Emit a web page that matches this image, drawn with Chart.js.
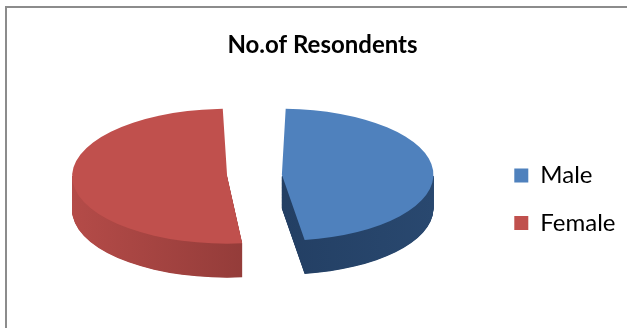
<!DOCTYPE html>
<html>
<head>
<meta charset="utf-8">
<script src="https://cdn.jsdelivr.net/npm/chart.js@4.4.0/dist/chart.umd.min.js"></script>
<style>
  html, body { margin: 0; padding: 0; background: #fff; overflow: hidden; }
  #wrap { position: relative; width: 627px; height: 328px; overflow: hidden; }
  #frame { position: absolute; left: 5px; top: 6px; width: 700px; height: 400px;
           border-left: 2px solid #8c8c8c; border-top: 2px solid #8c8c8c; }
  canvas { position: absolute; left: 0; top: 0; }
</style>
</head>
<body>
<div id="wrap">
  <div id="frame"></div>
  <canvas id="pie" width="660" height="328"></canvas>
</div>
<script>
// data
const labels = ['Male', 'Female'];
const respondents = [48, 52];

// colours (Excel 2007 defaults)
const topColors = ['#4F81BD', '#C0504D'];
const sideColors = [['#1d3658', '#29486f'], ['#b44b48', '#7a302e']]; // left -> right

// where the tilted pie lands on screen
const centerX = 254.5;
const centerY = 175.5;
const rimX = 155;     // horizontal radius of the top face
const tilt = 0.435;   // vertical squash
const depth = 34;     // thickness of the pie in px

// same outline Chart.js uses for an offset arc
function slicePath(ctx, a, dy) {
  const o = (a.options.offset || 0) / 4;
  const alpha = a.endAngle - a.startAngle;
  const half = (a.startAngle + a.endAngle) / 2;
  const ro = o * (1 - Math.sin(Math.min(Math.PI, alpha)));
  const r = a.outerRadius + ro;
  const beta = Math.max(0.001, alpha * r - ro / Math.PI) / r;
  const shrink = (alpha - beta) / 2;
  const cx = a.x + Math.cos(half) * o;
  const cy = a.y + Math.sin(half) * o + dy;
  ctx.beginPath();
  ctx.moveTo(cx, cy);
  ctx.arc(cx, cy, r, a.startAngle + shrink, a.endAngle - shrink);
  ctx.closePath();
  return { cx, r };
}

// squash the pie into an ellipse and give it a side wall
const pie3d = {
  id: 'pie3d',
  beforeDatasetsDraw(chart) {
    const ctx = chart.ctx;
    const arcs = chart.getDatasetMeta(0).data;
    let rMax = 0;
    arcs.forEach(a => { rMax = Math.max(rMax, a.outerRadius + (a.options.offset || 0) / 4); });
    const s = rimX / rMax;
    ctx.save();
    ctx.translate(centerX, centerY);
    ctx.scale(s, s * tilt);
    ctx.translate(-arcs[0].x, -arcs[0].y);
    const step = 1 / (s * tilt);

    // side wall: only the part below the centre line can ever show
    ctx.save();
    ctx.beginPath();
    ctx.rect(arcs[0].x - 4 * rMax, arcs[0].y + 2, 8 * rMax, 8 * rMax);
    ctx.clip();
    for (let d = depth; d > 0; d -= 0.5) {
      arcs.forEach((a, i) => {
        const { cx, r } = slicePath(ctx, a, d * step);
        const g = ctx.createLinearGradient(cx - r, 0, cx + r, 0);
        g.addColorStop(0, sideColors[i][0]);
        g.addColorStop(1, sideColors[i][1]);
        ctx.fillStyle = g;
        ctx.fill();
      });
    }
    ctx.restore();
  },
  afterDatasetsDraw(chart) {
    chart.ctx.restore();
  }
};

function draw() {
  new Chart(document.getElementById('pie'), {
    type: 'pie',
    data: {
      labels: labels,
      datasets: [{
        data: respondents,
        backgroundColor: topColors,
        borderWidth: 0,
        offset: 86,
        clip: false
      }]
    },
    options: {
      responsive: false,
      animation: false,
      events: [],
      radius: 100,
      layout: { padding: { left: 19.5, right: 34.5, top: 0, bottom: 0 } },
      plugins: {
        title: {
          display: true,
          text: 'No.of Resondents',
          color: '#000',
          font: { family: 'Lato', size: 24, weight: 'bold' },
          padding: { top: 31, bottom: 10.7 }
        },
        legend: {
          position: 'right',
          fullSize: false,
          labels: {
            color: '#000',
            boxWidth: 14,
            boxHeight: 14,
            padding: 23.5,
            font: { family: 'Lato', size: 24 }
          }
        },
        tooltip: { enabled: false }
      }
    },
    plugins: [pie3d]
  });
}

Promise.all([
  document.fonts.load('bold 24px Lato'),
  document.fonts.load('24px Lato')
]).then(draw, draw);
</script>
</body>
</html>
